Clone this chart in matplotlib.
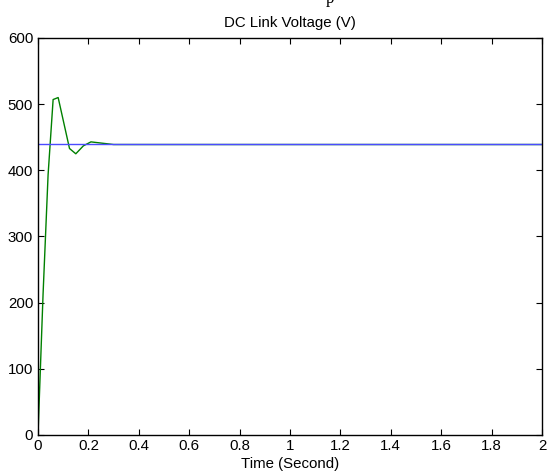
import numpy as np
import matplotlib.pyplot as plt
from matplotlib.ticker import FuncFormatter

plt.rcParams['font.family'] = ['Liberation Sans', 'DejaVu Sans']

# tensao de referencia e resposta medida no barramento CC
t_ref = [0.0, 2.0]
v_ref = [440, 440]

t_meas = [0.0, 0.02, 0.04, 0.06, 0.08, 0.125, 0.15, 0.18, 0.21, 0.30, 2.0]
v_meas = [0, 212, 393, 507, 510, 433, 425, 437, 443, 439, 439]

x_ticks = np.arange(0, 2.01, 0.2)
y_ticks = np.arange(0, 601, 100)

fs = 10.8

fig = plt.figure(figsize=(5.48, 4.74), dpi=100)
ax = fig.add_axes([38 / 548, 39 / 474, 504 / 548, 397 / 474])

ax.plot(t_meas, v_meas, color='#008000', linewidth=1.0)
ax.plot(t_ref, v_ref, color='#4b4bff', linewidth=1.0)

ax.set_xlim(0, 2)
ax.set_ylim(0, 600)
ax.set_xticks(x_ticks)
ax.set_yticks(y_ticks)
ax.xaxis.set_major_formatter(FuncFormatter(lambda v, p: f'{v:g}'))
ax.tick_params(direction='in', length=4, width=0.8, labelsize=fs,
               top=True, right=True)
ax.tick_params(axis='x', pad=3)
ax.tick_params(axis='y', pad=3.5)
for s in ax.spines.values():
    s.set_linewidth(1.0)

ax.set_title('DC Link Voltage (V)', fontsize=fs, pad=8)
ax.set_xlabel('Time (Second)', fontsize=fs, labelpad=2.5)

# resto da legenda do documento cortado no topo
fig.text(330 / 548, 1.0 - 3 / 474, 'p', family='Liberation Serif',
         fontsize=12, ha='center', va='baseline')

plt.savefig('out.png', dpi=100)
